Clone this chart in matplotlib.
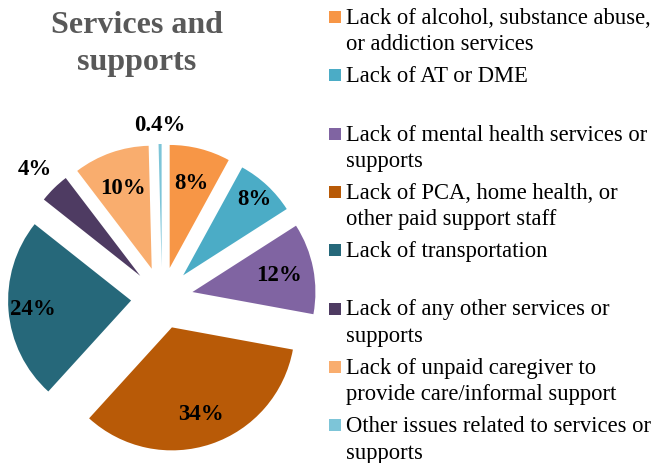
import matplotlib.pyplot as plt
import numpy as np
from matplotlib.patches import Rectangle

categories = [
    "Lack of alcohol, substance abuse,\nor addiction services",
    "Lack of AT or DME",
    "Lack of mental health services or\nsupports",
    "Lack of PCA, home health, or\nother paid support staff",
    "Lack of transportation",
    "Lack of any other services or\nsupports",
    "Lack of unpaid caregiver to\nprovide care/informal support",
    "Other issues related to services or\nsupports",
]
shares = [8, 8, 12, 34, 24, 4, 10, 0.4]
colors = ["#F79646", "#4BACC6", "#8064A2", "#B85A07",
          "#26687A", "#4E3B62", "#F9AD6E", "#7DC5D8"]
# where each % label sits, as a fraction of the radius from the wedge centre
label_pos = [0.72, 0.85, 0.72, 0.74, 0.8, 1.22, 0.7, 1.16]

W, H = 660, 464
fig = plt.figure(figsize=(W / 100, H / 100), dpi=100)

# pie axes: 123 px per data unit, pie centred at (162, 299) px from top-left
px = 123.0
cx, cy = 162, H - 299
ax = fig.add_axes([0, 0, 330 / W, 1])
wedges, _ = ax.pie(shares, colors=colors, startangle=90, counterclock=False,
                   radius=1, explode=[31 / px] * len(shares),
                   wedgeprops=dict(linewidth=0))
ax.set_xlim(-cx / px, (330 - cx) / px)
ax.set_ylim(-cy / px, (H - cy) / px)
ax.set_aspect("equal")
ax.axis("off")

for w, v, f in zip(wedges, shares, label_pos):
    ang = np.deg2rad((w.theta1 + w.theta2) / 2)
    x0, y0 = w.center
    ax.text(x0 + f * np.cos(ang), y0 + f * np.sin(ang), f"{v:g}%",
            ha="center", va="center", fontsize=16.5, fontweight="bold",
            family="Liberation Serif", color="black")

fig.text(137 / W, 1 - 44 / H, "Services and\nsupports", ha="center", va="center",
         fontsize=23, fontweight="bold", family="Liberation Serif",
         color="#595959", linespacing=1.35)

# legend drawn by hand so the swatch lines up with the first text line
for i, (lab, c) in enumerate(zip(categories, colors)):
    base = 24 + i * 58.3
    fig.patches.append(Rectangle((329 / W, 1 - base / H), 12 / W, 12 / H,
                                 transform=fig.transFigure, color=c, linewidth=0))
    for k, line in enumerate(lab.split("\n")):
        fig.text(346 / W, 1 - (base + k * 26.5) / H, line, ha="left",
                 va="baseline", fontsize=16.3, family="Liberation Serif",
                 color="black")

fig.savefig("out.png", dpi=100)
